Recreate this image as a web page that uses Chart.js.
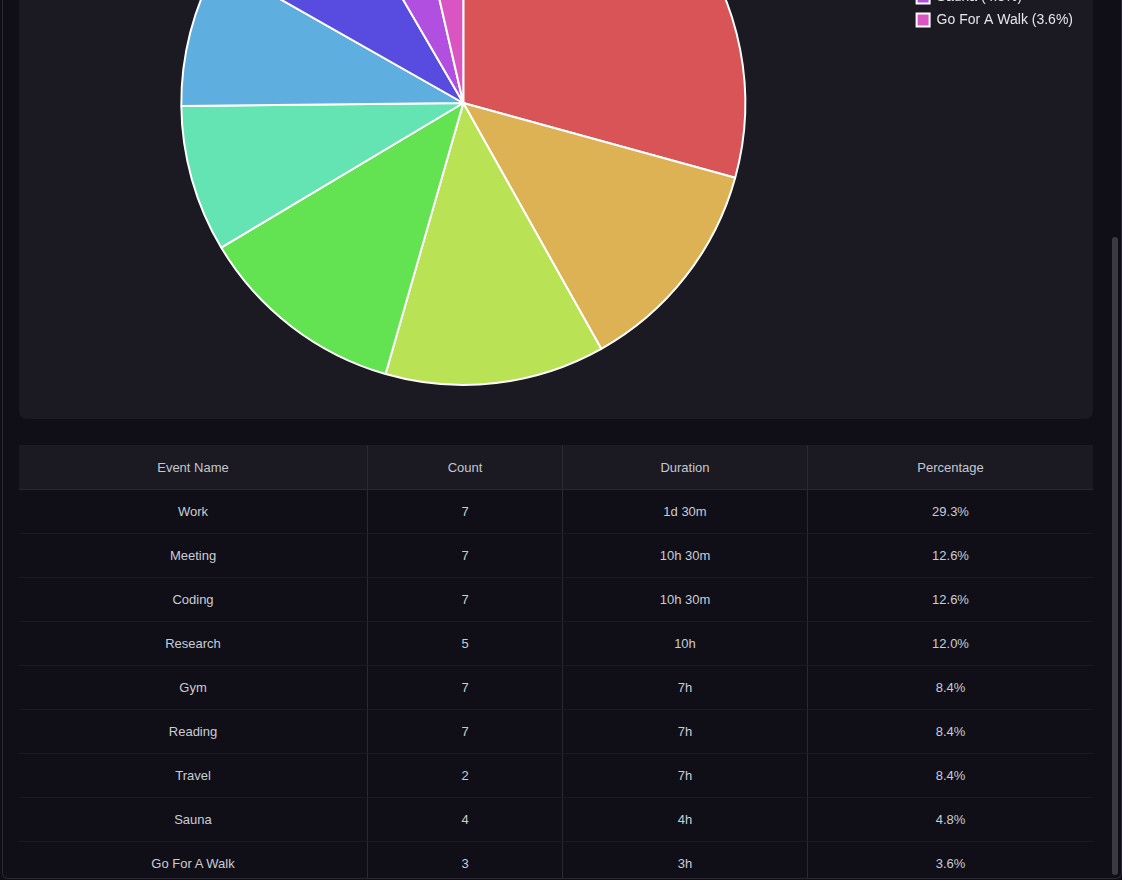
<!DOCTYPE html>
<html>
<head>
<meta charset="utf-8">
<script src="https://cdn.jsdelivr.net/npm/chart.js@4"></script>
<style>
  html, body { margin: 0; padding: 0; background: #0f0e15; overflow: hidden; width: 1122px; height: 880px; font-family: "Liberation Sans", Arial, sans-serif; }
  #frame { position: absolute; left: 2px; top: 0; width: 1118px; height: 878px; border: 1px solid #2a2833; border-top: none; border-radius: 0 0 6px 6px; background: #100f17; overflow: hidden; }
  #card { position: absolute; left: 16px; top: -200px; width: 1074px; height: 619px; background: #1b1922; border-radius: 8px; }
  #card canvas { display: block; }
  table { position: absolute; left: 16px; top: 445px; width: 1074px; border-collapse: collapse; font-size: 13px; color: #c9cdd6; }
  th { background: #1b1922; font-weight: normal; height: 42px; color: #c3c7d0; border-bottom: 1px solid #232a33; }
  td { height: 41px; text-align: center; border-bottom: 1px solid #1a1922; }
  th + th, td + td { border-left: 1px solid #2a2933; }
  #scroll { position: absolute; right: 3px; top: 237px; width: 6px; height: 638px; background: #3b3a42; border-radius: 3px; }
</style>
</head>
<body>
<div id="frame">
  <div id="card"><canvas id="pie" width="1074" height="619"></canvas></div>
  <table id="tbl">
    <thead><tr><th style="width:346px">Event Name</th><th style="width:192px">Count</th><th style="width:242px">Duration</th><th>Percentage</th></tr></thead>
    <tbody></tbody>
  </table>
  <div id="scroll"></div>
</div>
<script>
const categories = ['Work', 'Meeting', 'Coding', 'Research', 'Gym', 'Reading', 'Travel', 'Sauna', 'Go For A Walk']
const counts = [7, 7, 7, 5, 7, 7, 2, 4, 3]
const durations = ['1d 30m', '10h 30m', '10h 30m', '10h', '7h', '7h', '7h', '4h', '3h']
const percentages = [29.3, 12.6, 12.6, 12.0, 8.4, 8.4, 8.4, 4.8, 3.6]
const colors = ['#d95456', '#ddb254', '#b9e354', '#63e352', '#64e3b3', '#5eafe0', '#584be0', '#b04fe0', '#d956c2']

const tbody = document.querySelector('#tbl tbody')
categories.forEach((name, i) => {
    const tr = document.createElement('tr')
    tr.innerHTML = `<td>${name}</td><td>${counts[i]}</td><td>${durations[i]}</td><td>${percentages[i].toFixed(1)}%</td>`
    tbody.appendChild(tr)
})

new Chart(document.getElementById('pie'), {
    type: 'pie',
    data: {
        labels: categories.map((c, i) => `${c} (${percentages[i].toFixed(1)}%)`),
        datasets: [{ data: percentages, backgroundColor: colors, borderColor: '#ffffff', borderWidth: 2 }]
    },
    options: {
        responsive: false,
        animation: false,
        layout: { padding: { top: 20, bottom: 33, left: 0, right: 10 } },
        plugins: {
            tooltip: { enabled: false },
            legend: {
                position: 'right',
                align: 'start',
                labels: { color: '#e6e6ea', font: { size: 14, family: 'Liberation Sans' }, boxWidth: 13, boxHeight: 13, padding: 9 }
            }
        }
    }
})
</script>
</body>
</html>
